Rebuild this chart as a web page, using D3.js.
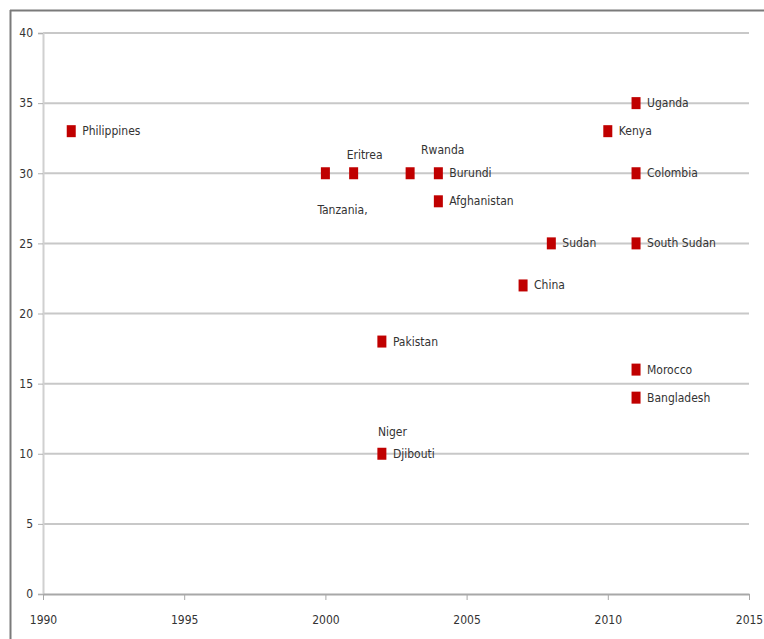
<!DOCTYPE html>
<html>
<head>
<meta charset="utf-8">
<script src="https://cdn.jsdelivr.net/npm/d3@7"></script>
<style>
  body { margin: 0; background: #fff; }
  svg text { font-family: "Liberation Sans Narrow", "DejaVu Sans Condensed", "Liberation Sans", sans-serif; fill: #333; }
</style>
</head>
<body>
<svg id="svg"></svg>
<script>
// data
var countries = ["Philippines", "Tanzania,", "Eritrea", "Rwanda", "Burundi", "Afghanistan",
                 "Pakistan", "Djibouti", "China", "Sudan", "Kenya", "Uganda",
                 "Colombia", "South Sudan", "Morocco", "Bangladesh"];
var years     = [1991, 2000, 2001, 2003, 2004, 2004,
                 2002, 2002, 2007, 2008, 2010, 2011,
                 2011, 2011, 2011, 2011];
var values    = [33, 30, 30, 30, 30, 28,
                 18, 10, 22, 25, 33, 35,
                 30, 25, 16, 14];
// extra label with no marker of its own (sits on top of the Djibouti marker)
var extraLabels = [{name: "Niger", year: 2002, value: 10}];

var xTicks = [1990, 1995, 2000, 2005, 2010, 2015];
var yTicks = [0, 5, 10, 15, 20, 25, 30, 35, 40];

var outer_width  = 764;
var outer_height = 639;

var x = d3.scaleLinear().domain([1990, 2015]).range([43, 749]);
var y = d3.scaleLinear().domain([0, 40]).range([594, 33]);

var svg = d3.select("#svg")
    .attr("width", outer_width)
    .attr("height", outer_height);

// outer frame (only top and left edges show)
svg.append("line").attr("x1", 10).attr("y1", 10.5).attr("x2", outer_width).attr("y2", 10.5)
    .style("stroke", "#7a7a7a").style("stroke-width", 2);
svg.append("line").attr("x1", 10.5).attr("y1", 10).attr("x2", 10.5).attr("y2", outer_height)
    .style("stroke", "#7a7a7a").style("stroke-width", 2);

// horizontal gridlines
svg.selectAll(".grid")
    .data(yTicks.filter(function(d) { return d > 0; }))
    .enter()
    .append("line")
    .attr("class", "grid")
    .attr("x1", x(1990)).attr("x2", x(2015))
    .attr("y1", function(d) { return y(d); })
    .attr("y2", function(d) { return y(d); })
    .style("stroke", "#c8c8c8")
    .style("stroke-width", 2);

// y axis
var yAxis = svg.append("g")
    .attr("transform", "translate(" + x(1990) + ",0)")
    .call(d3.axisLeft(y).tickValues(yTicks).tickSize(5).tickPadding(5));
yAxis.select(".domain").style("stroke", "#d0d0d0").style("stroke-width", 2);
yAxis.selectAll(".tick line").style("stroke", "#b0b0b0");
yAxis.selectAll("text").style("font-size", "12px").style("fill", "#333");

// x axis
var xAxis = svg.append("g")
    .attr("transform", "translate(0," + y(0) + ")")
    .call(d3.axisBottom(x).tickValues(xTicks).tickFormat(d3.format("d")).tickSize(6).tickPadding(15).tickSizeOuter(0));
xAxis.select(".domain").style("stroke", "#a8a8a8").style("stroke-width", 2);
xAxis.selectAll(".tick line").style("stroke", "#a8a8a8");
xAxis.selectAll("text").style("font-size", "12px").style("fill", "#333");

// points
var pts = countries.map(function(c, i) { return {name: c, year: years[i], value: values[i]}; });

svg.selectAll(".pt")
    .data(pts)
    .enter()
    .append("rect")
    .attr("class", "pt")
    .attr("x", function(d) { return x(d.year) - 4.5; })
    .attr("y", function(d) { return y(d.value) - 6; })
    .attr("width", 9)
    .attr("height", 12)
    .style("fill", "#c00000");

// label placement: default is to the right of the marker
var place = {
    "Tanzania,": {dx: -8, dy: 41},
    "Eritrea":   {dx: -7, dy: -14},
    "Rwanda":    {dx: 11, dy: -19},
    "Niger":     {dx: -4, dy: -18}
};

svg.selectAll(".lbl")
    .data(pts.concat(extraLabels))
    .enter()
    .append("text")
    .attr("class", "lbl")
    .attr("x", function(d) { return x(d.year) + (place[d.name] ? place[d.name].dx : 11); })
    .attr("y", function(d) { return y(d.value) + (place[d.name] ? place[d.name].dy : 4); })
    .style("font-size", "12px")
    .text(function(d) { return d.name; });
</script>
</body>
</html>
